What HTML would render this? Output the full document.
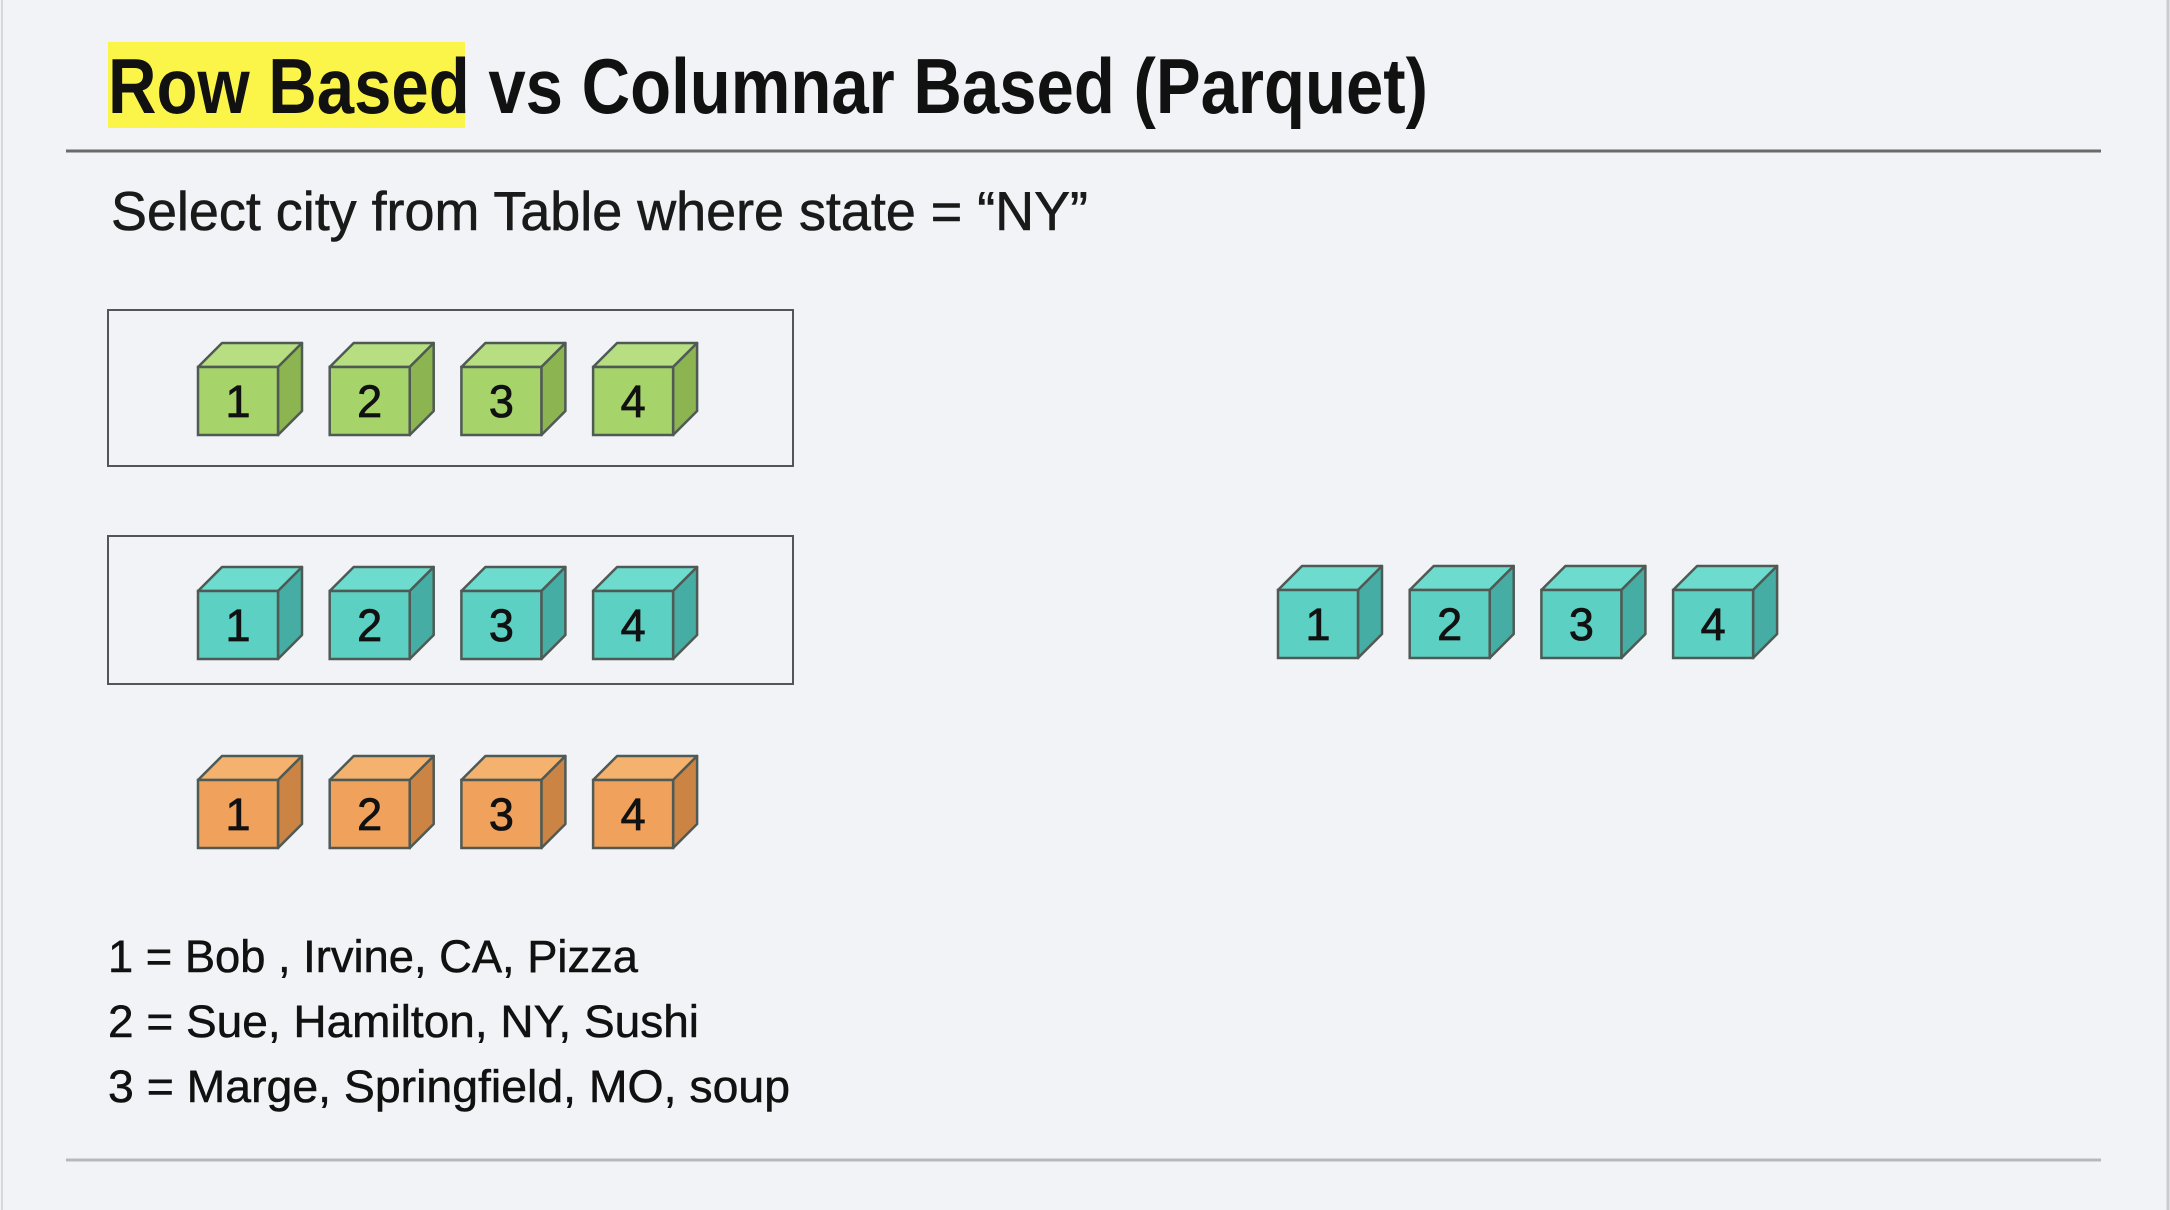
<!DOCTYPE html>
<html><head><meta charset="utf-8"><style>
html,body{margin:0;padding:0;background:#f1f3f6;}
svg{display:block;font-family:"Liberation Sans",sans-serif;}
</style></head><body>
<svg id="s" width="2170" height="1210" viewBox="0 0 2170 1210">
<rect x="0" y="0" width="2170" height="1210" fill="#f1f3f6"/>
<line x1="2" y1="0" x2="2" y2="1210" stroke="#d6d8dc" stroke-width="2"/>
<line x1="2168" y1="0" x2="2168" y2="1210" stroke="#c9cbcf" stroke-width="3"/>
<rect x="108" y="42" width="357" height="86" fill="#fbf54a"/>
<text x="108" y="113" font-size="78" font-weight="bold" fill="#111" textLength="1320" lengthAdjust="spacingAndGlyphs">Row Based vs Columnar Based (Parquet)</text>
<line x1="66" y1="151" x2="2101" y2="151" stroke="#6a6a6a" stroke-width="3"/>
<text x="111" y="230" font-size="55" fill="#1a1a1a" stroke="#1a1a1a" stroke-width="0.6" textLength="977" lengthAdjust="spacingAndGlyphs">Select city from Table where state = “NY”</text>
<rect x="108" y="310" width="685" height="156" fill="none" stroke="#555" stroke-width="2"/>
<rect x="108" y="536" width="685" height="148" fill="none" stroke="#555" stroke-width="2"/>
<g id="cubes"></g>
<text x="108" y="972" font-size="45" fill="#111" stroke="#111" stroke-width="0.5" textLength="530" lengthAdjust="spacingAndGlyphs">1 = Bob , Irvine, CA, Pizza</text>
<text x="108" y="1037" font-size="45" fill="#111" stroke="#111" stroke-width="0.5" textLength="591" lengthAdjust="spacingAndGlyphs">2 = Sue, Hamilton, NY, Sushi</text>
<text x="108" y="1102" font-size="45" fill="#111" stroke="#111" stroke-width="0.5" textLength="682" lengthAdjust="spacingAndGlyphs">3 = Marge, Springfield, MO, soup</text>
<line x1="66" y1="1160" x2="2101" y2="1160" stroke="#b8b8bc" stroke-width="3"/>
</svg>
<script>
const cubeLabels=["1","2","3","4"];
const groupNames=["green-row","teal-row","orange-row","teal-column"];
const groupX=[198,198,198,1278];
const groupY=[367,591,780,590];
const groupColor=[["#a6d46b","#8cb552","#b7de80"],["#5dd0c4","#45ada4","#6ddccf"],["#f0a15b","#cc8445","#f5b26f"],["#5dd0c4","#45ada4","#6ddccf"]];
const g=document.getElementById('cubes');
const NS='http://www.w3.org/2000/svg';
const W=80,H=68,D=24,STEP=131.7;
function mk(tag,attrs,parent){const e=document.createElementNS(NS,tag);for(const k in attrs)e.setAttribute(k,attrs[k]);parent.appendChild(e);return e;}
groupNames.forEach((gn,gi)=>{
  cubeLabels.forEach((lab,i)=>{
    const x=groupX[gi]+i*STEP,y=groupY[gi];
    const c=groupColor[gi];
    const cg=mk('g',{},g);
    
    
    mk('polygon',{points:`${x},${y} ${x+D},${y-D} ${x+W+D},${y-D} ${x+W},${y}`,fill:c[2],stroke:'#4f5a55','stroke-width':2.5,'stroke-linejoin':'round'},cg);
    mk('polygon',{points:`${x+W},${y} ${x+W+D},${y-D} ${x+W+D},${y+H-D} ${x+W},${y+H}`,fill:c[1],stroke:'#4f5a55','stroke-width':2.5,'stroke-linejoin':'round'},cg);
    mk('rect',{x:x,y:y,width:W,height:H,fill:c[0],stroke:'#4f5a55','stroke-width':2.5},cg);
    const t=mk('text',{x:x+W/2,y:y+H/2+16,'font-size':45,'text-anchor':'middle',fill:'#111',stroke:'#111','stroke-width':0.8},cg);
    t.textContent=lab;
  });
});
</script>
</body></html>
